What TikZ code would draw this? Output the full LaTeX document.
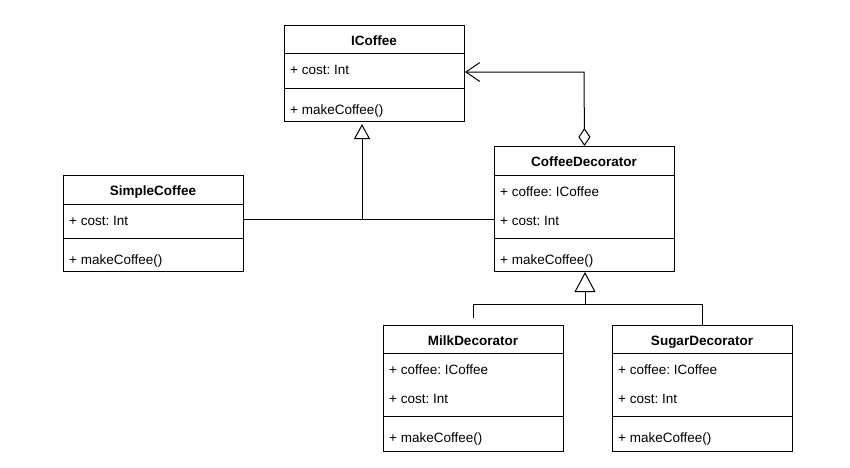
\documentclass[tikz,border=0pt]{standalone}
\usepackage{fontspec}
\setmainfont{Liberation Sans}
\usetikzlibrary{arrows.meta}
\frenchspacing

\tikzset{
  classbox/.style={draw, line width=1pt, anchor=north west, inner sep=0pt,
    minimum width=180pt, fill=white},
  ttl/.style={anchor=base, inner sep=0pt,
    font=\fontsize{13.5}{16}\selectfont\bfseries},
  member/.style={anchor=base west, inner sep=0pt,
    font=\fontsize{13.5}{16}\selectfont},
  link/.style={line width=1pt},
  gen/.style={link, -{Triangle[open, length=#1pt, width={#1pt+1pt}]}},
  agg/.style={link, {Diamond[open, length=18pt, width=12pt]}-{Straight Barb[length=14pt, width=19pt]}},
}

% UML class: name, left, top, first rule, second rule, bottom, title, attributes, operation
\newcommand\umlclass[9]{%
  \node[classbox, minimum height={(#6-#3)*1pt}] (#1) at (#2,#3) {};
  \draw[link] (#2,#4) -- (#2+180,#4);
  \draw[link] (#2,#5) -- (#2+180,#5);
  \node[ttl] (#1-title) at (#2+90,#3+20) {#7};
  \foreach \a [count=\i] in {#8} {
    \node[member] (#1-attr\i) at (#2+6,#4+21+29*\i-29) {\a};
  }
  \node[member] (#1-op) at (#2+6,#5+26) {#9};
}

\begin{document}
\begin{tikzpicture}[x=1pt,y=-1pt]
  \fill[white] (0,0) rectangle (850,467);
  \useasboundingbox (0,0) rectangle (850,467);

  \umlclass{icoffee}{284}{25}{53}{88}{121}{ICoffee}{+ cost: Int}{+ makeCoffee()}
  \umlclass{simple}{63}{175}{204}{238}{271}{SimpleCoffee}{+ cost: Int}{+ makeCoffee()}
  \umlclass{decor}{494}{146}{175}{238}{271}{CoffeeDecorator}{+ coffee: ICoffee, + cost: Int}{+ makeCoffee()}
  \umlclass{milk}{383}{325}{353}{416}{451}{MilkDecorator}{+ coffee: ICoffee, + cost: Int}{+ makeCoffee()}
  \umlclass{sugar}{612}{325}{353}{416}{451}{SugarDecorator}{+ coffee: ICoffee, + cost: Int}{+ makeCoffee()}

  % junction points of the generalisation trees
  \coordinate (upjoin) at (362,219);
  \coordinate (lowjoin) at (585,304);
  \coordinate (aggbend) at (584,72);
  \coordinate (milkend) at (473,318);
  \coordinate (icoffeetip) at (362,124);
  \coordinate (decortip) at (585,272);

  % SimpleCoffee and CoffeeDecorator realise ICoffee
  \draw[link] (upjoin -| simple.east) -- (upjoin -| decor.west);
  \draw[gen=15] (upjoin) -- (icoffeetip);

  % CoffeeDecorator holds an ICoffee
  \draw[agg] (decor.north) -- (aggbend) -- (aggbend -| icoffee.east);

  % Milk and Sugar decorators extend CoffeeDecorator
  \draw[link] (milkend) -- (milkend |- lowjoin) -- (sugar.north |- lowjoin) -- (sugar.north);
  \draw[gen=20] (lowjoin) -- (decortip);
\end{tikzpicture}
\end{document}
